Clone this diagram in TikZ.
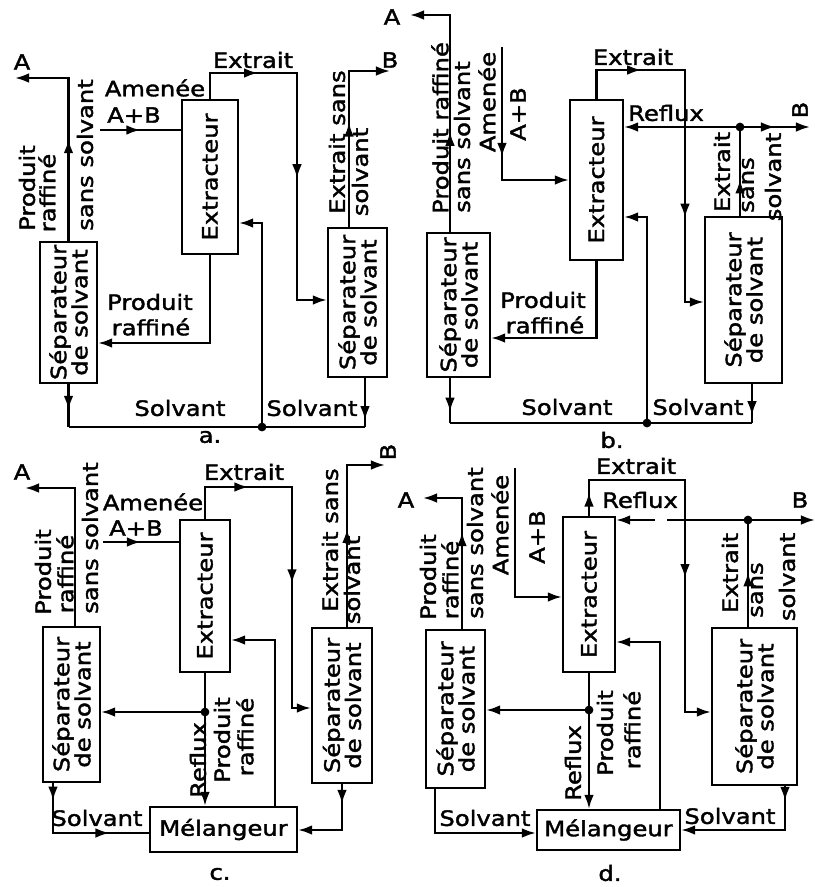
\documentclass[tikz,border=0pt]{standalone}
\usepackage{fontspec}
\newfontfamily\flowfont[FakeStretch=1.15,FakeBold=1.8]{DejaVu Sans}
\usetikzlibrary{arrows.meta,decorations.markings}

\begin{document}
\begin{tikzpicture}[x=0.02cm, y=-0.02cm, >={Latex[length=8pt,width=5.5pt]}, line width=1.3pt,
  every node/.style={font=\flowfont\fontsize{12}{12}\selectfont, inner sep=0pt},
  box/.style n args={2}{draw, line width=1.3pt, minimum width=#1, minimum height=#2},
  rot/.style={rotate=90},
  dot/.style={circle, fill, minimum size=5pt, inner sep=0pt},
  ma/.style={postaction={decorate, decoration={markings, mark=at position #1 with {\arrow{>}}}}}]
  \useasboundingbox (0,0) rectangle (815,887);

  \node[box={1.12cm}{3.08cm}] (exa) at (210,177) {};
  \node[rot] at (exa) {Extracteur};
  \node[box={1.14cm}{2.82cm}] (sla) at (68.5,312.5) {};
  \node[rot, align=center] at (sla) {Séparateur\\de solvant};
  \node[box={1.18cm}{2.98cm}] (sra) at (357.5,302.5) {};
  \node[rot, align=center] at (sra) {Séparateur\\de solvant};

  \coordinate (aA) at (15,78);
  \coordinate (aF) at (100,130);
  \coordinate (aE) at (297,73);
  \coordinate (aB) at (349,71);
  \coordinate (aBo) at (390,71);
  \coordinate (aR) at (210,343);
  \coordinate (aS1) at (68.5,427);
  \coordinate (aS2) at (365,427);
  \coordinate (aJ) at (262,427);
  \coordinate (aK) at (262,223);

  \draw[->, ma=0.47] (sla.north) |- (aA);
  \draw[ma=0.5] (aF) -- (aF -| exa.west);
  \draw[->, ma=0.2, ma=0.59] (exa.north) |- (aE) |- (sra.west |- 0,300);
  \draw[->, ma=0.53] (aB |- sra.north) -- (aB) -- (aBo);
  \draw[->] (exa.south) -- (aR) -- (aR -| sla.east);
  \draw[ma=0.6] (sla.south) -- (aS1);
  \draw (aS1) -- (aS2);
  \draw[ma=0.86] (aS2 |- sra.south) -- (aS2);
  \draw[->] (aJ) -- (aK) -- (aK -| exa.east);
  \node[dot] at (aJ) {};

  \node at (22,62) {A};
  \node at (155,88) {Amenée};
  \node at (134,115) {A+B};
  \node at (253,60) {Extrait};
  \node at (390,60) {B};
  \node[rot] at (337,142) {Extrait sans};
  \node[rot] at (360,172) {solvant};
  \node[rot] at (27,188) {Produit};
  \node[rot] at (47,193) {raffiné};
  \node[rot] at (85,155) {sans solvant};
  \node at (150,302) {Produit};
  \node at (151,327) {raffiné};
  \node at (180,408) {Solvant};
  \node at (312,408) {Solvant};
  \node at (210,437) {a.};

  \node[box={1.06cm}{3.2cm}] (exb) at (596.5,180) {};
  \node[rot] at (exb) {Extracteur};
  \node[box={1.26cm}{2.88cm}] (slb) at (458.5,305) {};
  \node[rot, align=center] at (slb) {Séparateur\\de solvant};
  \node[box={1.54cm}{3.32cm}] (srb) at (743.5,300) {};
  \node[rot, align=center] at (srb) {Séparateur\\de solvant};

  \coordinate (bA) at (410,15);
  \coordinate (bA1) at (450,15);
  \coordinate (bF) at (502,47);
  \coordinate (bF1) at (502,180);
  \coordinate (bE) at (685,70);
  \coordinate (bJ) at (740,127);
  \coordinate (bBo) at (810,127);
  \coordinate (bR) at (596.5,338);
  \coordinate (bS1) at (450,423);
  \coordinate (bS2) at (752,423);
  \coordinate (bJ2) at (647,423);
  \coordinate (bK) at (647,217);

  \draw[->, ma=0.39] (bA1 |- slb.north) -- (bA1) -- (bA);
  \draw[->, ma=0.55] (bF) -- (bF1) -- (bF1 -| exb.west);
  \draw[->, ma=0.2, ma=0.72] (exb.north) |- (bE) |- (srb.west |- 0,302);
  \draw[->] (bJ) -- (bJ -| exb.east);
  \draw[->, ma=0.5] (bJ) -- (bBo);
  \draw[ma=0.41] (bJ |- srb.north) -- (bJ);
  \node[dot] at (bJ) {};
  \draw[->] (exb.south) |- (bR -| slb.east);
  \draw[ma=0.75] (bS1 |- slb.south) -- (bS1);
  \draw (bS1) -- (bS2);
  \draw[ma=0.8] (bS2 |- srb.south) -- (bS2);
  \draw[->] (bJ2) -- (bK) -- (bK -| exb.east);
  \node[dot] at (bJ2) {};

  \node at (392,17) {A};
  \node[rot] at (440,128) {Produit raffiné};
  \node[rot] at (462,137) {sans solvant};
  \node[rot] at (487,102) {Amenée};
  \node[rot] at (518,114) {A+B};
  \node at (633,57) {Extrait};
  \node at (666,113) {Reflux};
  \node[rot] at (800,110) {B};
  \node[rot] at (722,172) {Extrait};
  \node[rot] at (748,185) {sans};
  \node[rot] at (773,177) {solvant};
  \node at (543,300) {Produit};
  \node at (545,325) {raffiné};
  \node at (567,407) {Solvant};
  \node at (698,407) {Solvant};
  \node at (612,440) {b.};

  \node[box={1.0cm}{3.04cm}] (exc) at (205,596) {};
  \node[rot] at (exc) {Extracteur};
  \node[box={1.14cm}{3.1cm}] (slc) at (71.5,704.5) {};
  \node[rot, align=center] at (slc) {Séparateur\\de solvant};
  \node[box={1.2cm}{3.1cm}] (src) at (342,705.5) {};
  \node[rot, align=center] at (src) {Séparateur\\de solvant};
  \node[box={2.94cm}{0.9cm}] (mxc) at (223.5,829.5) {Mélangeur};

  \coordinate (cA) at (25,488);
  \coordinate (cA1) at (75,488);
  \coordinate (cF) at (103,542);
  \coordinate (cE) at (292,487);
  \coordinate (cB) at (347,465);
  \coordinate (cBo) at (385,465);
  \coordinate (cJ) at (205,712);
  \coordinate (cK) at (275,640);
  \coordinate (cS) at (53,833);
  \coordinate (cT) at (342,830);

  \draw[->] (cA1 |- slc.north) -- (cA1) -- (cA);
  \draw[ma=0.5] (cF) -- (cF -| exc.west);
  \draw[->, ma=0.21, ma=0.6] (exc.north) |- (cE) |- (src.west |- 0,708);
  \draw[->, ma=0.49] (cB |- src.north) -- (cB) -- (cBo);
  \draw (exc.south) -- (cJ);
  \draw[->] (cJ) -- (cJ -| slc.east);
  \draw[->] (cJ) -- (cJ |- mxc.north);
  \node[dot] at (cJ) {};
  \draw[->] (cK |- mxc.north) -- (cK) -- (cK -| exc.east);
  \draw[ma=0.12, ma=0.73] (cS |- slc.south) -- (cS) -- (cS -| mxc.west);
  \draw[->, ma=0.22] (cT |- src.south) -- (cT) -- (cT -| mxc.east);

  \node at (22,472) {A};
  \node[rot] at (43,572) {Produit};
  \node[rot] at (65,574) {raffiné};
  \node[rot] at (90,538) {sans solvant};
  \node at (153,502) {Amenée};
  \node at (136,528) {A+B};
  \node at (244,472) {Extrait};
  \node[rot] at (388,452) {B};
  \node[rot] at (330,540) {Extrait sans};
  \node[rot] at (352,580) {solvant};
  \node[rot] at (198,760) {Reflux};
  \node[rot] at (222,740) {Produit};
  \node[rot] at (245,737) {raffiné};
  \node at (97,818) {Solvant};
  \node at (220,874) {c.};

  \node[box={1.04cm}{3.1cm}] (exd) at (589,594.5) {};
  \node[rot] at (exd) {Extracteur};
  \node[box={1.18cm}{3.16cm}] (sld) at (455.5,709) {};
  \node[rot, align=center] at (sld) {Séparateur\\de solvant};
  \node[box={1.7cm}{3.14cm}] (srd) at (754.5,706.5) {};
  \node[rot, align=center] at (srd) {Séparateur\\de solvant};
  \node[box={2.86cm}{0.8cm}] (mxd) at (608.5,830) {Mélangeur};

  \coordinate (dA) at (423,498);
  \coordinate (dA1) at (462,498);
  \coordinate (dF) at (515,468);
  \coordinate (dF1) at (515,597);
  \coordinate (dE) at (685,480);
  \coordinate (dJ) at (748,520);
  \coordinate (dBo) at (815,520);
  \coordinate (dG1) at (667,520);
  \coordinate (dG2) at (655,520);
  \coordinate (dJ2) at (589,710);
  \coordinate (dK) at (660,642);
  \coordinate (dS) at (435,833);
  \coordinate (dT) at (785,830);

  \draw[->, ma=0.57] (dA1 |- sld.north) -- (dA1) -- (dA);
  \draw[->] (dF) -- (dF1) -- (dF1 -| exd.west);
  \draw[->, ma=0.06, ma=0.59] (exd.north) |- (dE) |- (srd.west |- 0,712);
  \draw[->] (dJ) -- (dBo);
  \draw (dJ) -- (dG1);
  \draw[->] (dG2) -- (dG2 -| exd.east);
  \draw[ma=0.51] (dJ |- srd.north) -- (dJ);
  \node[dot] at (dJ) {};
  \draw (exd.south) -- (dJ2);
  \draw[->] (dJ2) -- (dJ2 -| sld.east);
  \draw[->] (dJ2) -- (dJ2 |- mxd.north);
  \node[dot] at (dJ2) {};
  \draw[->] (dK |- mxd.north) -- (dK) -- (dK -| exd.east);
  \draw[->] (dS |- sld.south) -- (dS) -- (dS -| mxd.west);
  \draw[->, ma=0.1] (dT |- srd.south) -- (dT) -- (dT -| mxd.east);

  \node at (406,500) {A};
  \node[rot] at (428,577) {Produit};
  \node[rot] at (450,580) {raffiné};
  \node[rot] at (475,543) {sans solvant};
  \node[rot] at (500,525) {Amenée};
  \node[rot] at (537,537) {A+B};
  \node at (636,466) {Extrait};
  \node at (640,500) {Reflux};
  \node at (800,500) {B};
  \node[rot] at (730,573) {Extrait};
  \node[rot] at (757,590) {sans};
  \node[rot] at (787,577) {solvant};
  \node[rot] at (573,763) {Reflux};
  \node[rot] at (605,733) {Produit};
  \node[rot] at (632,730) {raffiné};
  \node at (485,818) {Solvant};
  \node at (730,816) {Solvant};
  \node at (610,873) {d.};
\end{tikzpicture}
\end{document}
